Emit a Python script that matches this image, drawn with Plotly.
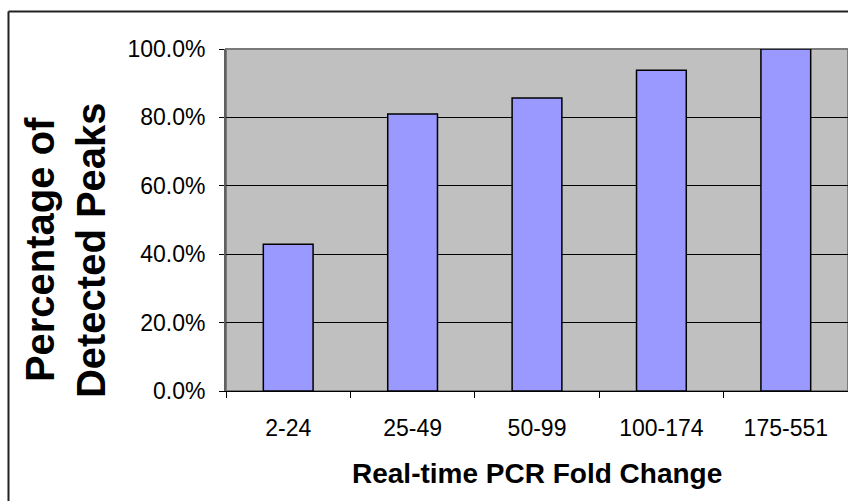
import plotly.graph_objects as go

# Fold-change bins and share of peaks detected in each bin
categories = ["2-24", "25-49", "50-99", "100-174", "175-551"]
detected_pct = [0.429, 0.810, 0.857, 0.938, 1.000]
y_ticks = [0.0, 0.2, 0.4, 0.6, 0.8, 1.0]

FONT = "Liberation Sans, Arial, sans-serif"

fig = go.Figure()
fig.add_trace(go.Bar(
    x=categories,
    y=detected_pct,
    width=0.4,
    marker=dict(color="#9999FF", line=dict(color="#000000", width=1.5)),
    hoverinfo="x+y",
))

fig.update_layout(
    width=848,
    height=501,
    margin=dict(l=226, r=0, t=49, b=110),
    paper_bgcolor="#FFFFFF",
    plot_bgcolor="#C0C0C0",
    showlegend=False,
    font=dict(family=FONT, color="#000000", size=23),
    xaxis=dict(
        range=[-0.5, 4.5],
        showgrid=False,
        showline=True,
        linecolor="#000000",
        linewidth=1,
        ticks="outside",
        tickson="boundaries",
        ticklen=6,
        tickcolor="#000000",
        ticklabelstandoff=16,
        tickfont=dict(size=23),
        zeroline=False,
    ),
    yaxis=dict(
        range=[0, 1],
        tickvals=y_ticks,
        tickformat=".1%",
        showgrid=True,
        gridcolor="#000000",
        gridwidth=1,
        showline=True,
        linecolor="#606060",
        linewidth=2,
        ticks="outside",
        ticklen=5,
        tickcolor="#000000",
        ticklabelstandoff=9,
        tickfont=dict(size=23),
        zeroline=False,
    ),
    shapes=[
        # plot-area border (gray, drawn above gridlines but under bars)
        dict(type="rect", xref="paper", yref="paper", x0=0, y0=0, x1=1, y1=1,
             line=dict(color="#7A7A7A", width=2), layer="between"),
        # outer chart frame (left and top edges)
        dict(type="line", xref="paper", yref="paper", x0=-0.3497, y0=-1.0,
             x1=-0.3497, y1=1.1096, line=dict(color="#222222", width=2)),
        dict(type="line", xref="paper", yref="paper", x0=-0.3497, y0=1.1096,
             x1=1.2, y1=1.1096, line=dict(color="#222222", width=2)),
    ],
    annotations=[
        dict(text="<b>Percentage of</b>", xref="paper", yref="paper",
             x=-0.299, y=0.412, xanchor="center", yanchor="middle", textangle=-90,
             showarrow=False, font=dict(family=FONT, size=40, color="#000000")),
        dict(text="<b>Detected Peaks</b>", xref="paper", yref="paper",
             x=-0.217, y=0.412, xanchor="center", yanchor="middle", textangle=-90,
             showarrow=False, font=dict(family=FONT, size=40, color="#000000")),
        dict(text="<b>Real-time PCR Fold Change</b>", xref="paper", yref="paper",
             x=0.5, y=-0.24, xanchor="center", yanchor="middle",
             showarrow=False, font=dict(family=FONT, size=28, color="#000000")),
    ],
)

fig.write_html("out.html")
